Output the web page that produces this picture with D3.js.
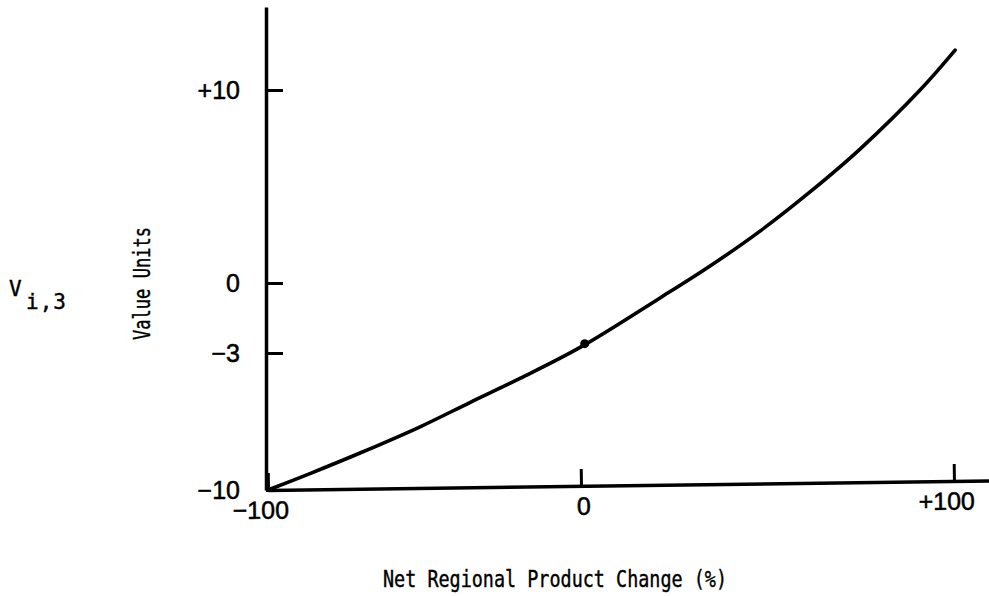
<!DOCTYPE html>
<html>
<head>
<meta charset="utf-8">
<script src="https://cdn.jsdelivr.net/npm/d3@7"></script>
<style>
  body { margin: 0; background: #fff; }
  svg { display: block; }
  .tickLabel { font-family: "Liberation Sans", Arial, sans-serif; font-size: 25px; fill: #000; stroke: #000; stroke-width: 0.5px; }
  .mono { font-family: "DejaVu Sans Mono", monospace; fill: #000; stroke: #000; stroke-width: 0.4px; }
</style>
</head>
<body>
<div id="chart"></div>
<script>
// values (x = % change, y = value units)
const curveX = [-100, -86.6, -70.6, -51.4, -35.5, -19.5, 0, 21.2, 34.6, 48.0, 61.4, 74.8, 90.9, 100.3]
const curveY = [-10, -9.16, -8.11, -6.77, -5.53, -4.30, -2.74, -0.64, 0.88, 2.69, 4.72, 6.94, 10.0, 12.07]
const markedPoint = [1, -2.6]

const xTicks = [-100, 0, 100]
const xTickLabels = ["\u2212100", "0", "+100"]
const yTicks = [-10, -3, 0, 10]
const yTickLabels = ["\u221210", "\u22123", "0", "+10"]

const width = 989
const height = 596

const svg = d3.select("#chart")
    .append("svg")
    .attr("width", width)
    .attr("height", height)

// both axes are drawn unevenly in the original, so the scales are piecewise
const xScale = d3.scaleLinear()
    .domain([-100, 0, 100, 110])
    .range([268, 581, 954, 991])

const yScale = d3.scaleLinear()
    .domain([-10, -3, 0, 10, 14.3])
    .range([490, 353, 283, 90, 7])

// y axis: ticks point inward, labels on the left
const yAxis = svg.append("g")
    .attr("transform", "translate(266,0)")
    .call(d3.axisLeft(yScale)
        .tickValues(yTicks)
        .tickFormat((d, i) => yTickLabels[i])
        .tickSizeInner(-17)
        .tickSizeOuter(0)
        .tickPadding(26))
yAxis.select(".domain").attr("stroke", "#000").attr("stroke-width", 3.5)
yAxis.selectAll(".tick line").attr("stroke", "#000").attr("stroke-width", 3)
yAxis.selectAll(".tick text").attr("class", "tickLabel").attr("font-size", null).attr("font-family", null)

// x axis: slightly tilted like the hand drawn one
const xAxis = svg.append("g")
    .attr("transform", "rotate(-0.75,268,490) translate(0,490)")
    .call(d3.axisBottom(xScale)
        .tickValues(xTicks)
        .tickFormat((d, i) => xTickLabels[i])
        .tickSizeInner(-17)
        .tickSizeOuter(0)
        .tickPadding(11))
xAxis.select(".domain").attr("stroke", "#000").attr("stroke-width", 3.5)
xAxis.selectAll(".tick line").attr("stroke", "#000").attr("stroke-width", 3)
xAxis.selectAll(".tick text")
    .attr("class", "tickLabel")
    .attr("font-size", null).attr("font-family", null)
    .attr("dx", (d, i) => i == 1 ? 2 : -8)

// the curve
const line = d3.line()
    .x((d, i) => xScale(curveX[i]))
    .y((d, i) => yScale(curveY[i]))
    .curve(d3.curveCatmullRom.alpha(0.5))

svg.append("path")
    .datum(curveX)
    .attr("d", line)
    .attr("fill", "none")
    .attr("stroke", "#000")
    .attr("stroke-width", 3.6)
    .attr("stroke-linecap", "round")

svg.append("circle")
    .attr("cx", xScale(markedPoint[0]))
    .attr("cy", yScale(markedPoint[1]))
    .attr("r", 4.5)
    .attr("fill", "#000")

// axis titles (tall typewriter letters, so squeeze them to the measured width)
svg.append("text")
    .attr("class", "mono")
    .attr("x", 383)
    .attr("y", 587)
    .attr("font-size", 23)
    .attr("textLength", 344)
    .attr("lengthAdjust", "spacingAndGlyphs")
    .text("Net Regional Product Change (%)")

svg.append("text")
    .attr("class", "mono")
    .attr("transform", "translate(150,340) rotate(-90)")
    .attr("font-size", 23)
    .attr("textLength", 113)
    .attr("lengthAdjust", "spacingAndGlyphs")
    .text("Value Units")

const vLabel = svg.append("text")
    .attr("class", "mono")
    .attr("font-size", 21)
vLabel.append("tspan")
    .attr("x", 9)
    .attr("y", 296)
    .text("V")
vLabel.append("tspan")
    .attr("x", 26)
    .attr("y", 309)
    .attr("letter-spacing", 1)
    .text("i,3")
</script>
</body>
</html>
